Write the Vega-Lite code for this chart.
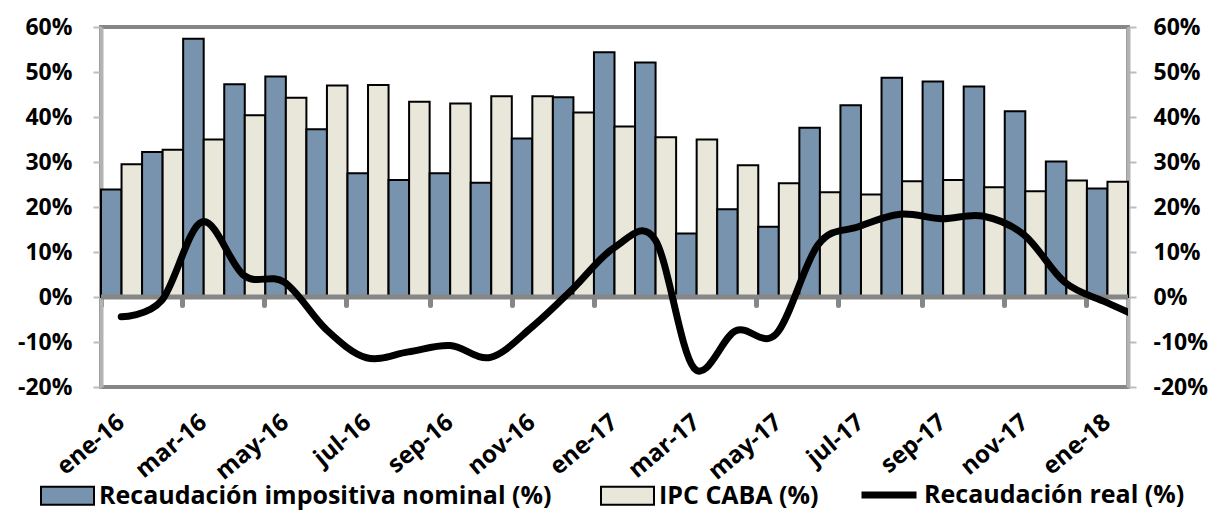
{
  "$schema": "https://vega.github.io/schema/vega-lite/v6.json",
  "width": 1027,
  "height": 360,
  "autosize": {"type": "none"},
  "padding": {"left": 101, "top": 27, "right": 91, "bottom": 126},
  "background": "white",
  "config": {
    "font": "Open Sans",
    "view": {"stroke": "#868686", "strokeWidth": 4},
    "axis": {"labelFont": "Open Sans", "labelFontWeight": "bold", "labelColor": "black", "grid": false, "title": null},
    "legend": {"labelFont": "Open Sans", "labelFontWeight": "bold", "labelColor": "black", "labelFontSize": 25, "labelLimit": 700, "title": null, "padding": 0}
  },
  "datasets": {
    "barras": [
      {"mes": "ene-16", "serie": "Recaudación impositiva nominal (%)", "valor": 23.9}, {"mes": "ene-16", "serie": "IPC CABA (%)", "valor": 29.5},
      {"mes": "feb-16", "serie": "Recaudación impositiva nominal (%)", "valor": 32.2}, {"mes": "feb-16", "serie": "IPC CABA (%)", "valor": 32.7},
      {"mes": "mar-16", "serie": "Recaudación impositiva nominal (%)", "valor": 57.4}, {"mes": "mar-16", "serie": "IPC CABA (%)", "valor": 35.0},
      {"mes": "abr-16", "serie": "Recaudación impositiva nominal (%)", "valor": 47.3}, {"mes": "abr-16", "serie": "IPC CABA (%)", "valor": 40.4},
      {"mes": "may-16", "serie": "Recaudación impositiva nominal (%)", "valor": 49.0}, {"mes": "may-16", "serie": "IPC CABA (%)", "valor": 44.3},
      {"mes": "jun-16", "serie": "Recaudación impositiva nominal (%)", "valor": 37.3}, {"mes": "jun-16", "serie": "IPC CABA (%)", "valor": 47.0},
      {"mes": "jul-16", "serie": "Recaudación impositiva nominal (%)", "valor": 27.5}, {"mes": "jul-16", "serie": "IPC CABA (%)", "valor": 47.1},
      {"mes": "ago-16", "serie": "Recaudación impositiva nominal (%)", "valor": 26.0}, {"mes": "ago-16", "serie": "IPC CABA (%)", "valor": 43.4},
      {"mes": "sep-16", "serie": "Recaudación impositiva nominal (%)", "valor": 27.5}, {"mes": "sep-16", "serie": "IPC CABA (%)", "valor": 43.0},
      {"mes": "oct-16", "serie": "Recaudación impositiva nominal (%)", "valor": 25.4}, {"mes": "oct-16", "serie": "IPC CABA (%)", "valor": 44.6},
      {"mes": "nov-16", "serie": "Recaudación impositiva nominal (%)", "valor": 35.2}, {"mes": "nov-16", "serie": "IPC CABA (%)", "valor": 44.6},
      {"mes": "dic-16", "serie": "Recaudación impositiva nominal (%)", "valor": 44.4}, {"mes": "dic-16", "serie": "IPC CABA (%)", "valor": 41.0},
      {"mes": "ene-17", "serie": "Recaudación impositiva nominal (%)", "valor": 54.4}, {"mes": "ene-17", "serie": "IPC CABA (%)", "valor": 37.9},
      {"mes": "feb-17", "serie": "Recaudación impositiva nominal (%)", "valor": 52.1}, {"mes": "feb-17", "serie": "IPC CABA (%)", "valor": 35.5},
      {"mes": "mar-17", "serie": "Recaudación impositiva nominal (%)", "valor": 14.1}, {"mes": "mar-17", "serie": "IPC CABA (%)", "valor": 35.0},
      {"mes": "abr-17", "serie": "Recaudación impositiva nominal (%)", "valor": 19.5}, {"mes": "abr-17", "serie": "IPC CABA (%)", "valor": 29.3},
      {"mes": "may-17", "serie": "Recaudación impositiva nominal (%)", "valor": 15.6}, {"mes": "may-17", "serie": "IPC CABA (%)", "valor": 25.3},
      {"mes": "jun-17", "serie": "Recaudación impositiva nominal (%)", "valor": 37.6}, {"mes": "jun-17", "serie": "IPC CABA (%)", "valor": 23.3},
      {"mes": "jul-17", "serie": "Recaudación impositiva nominal (%)", "valor": 42.6}, {"mes": "jul-17", "serie": "IPC CABA (%)", "valor": 22.8},
      {"mes": "ago-17", "serie": "Recaudación impositiva nominal (%)", "valor": 48.7}, {"mes": "ago-17", "serie": "IPC CABA (%)", "valor": 25.7},
      {"mes": "sep-17", "serie": "Recaudación impositiva nominal (%)", "valor": 47.9}, {"mes": "sep-17", "serie": "IPC CABA (%)", "valor": 26.0},
      {"mes": "oct-17", "serie": "Recaudación impositiva nominal (%)", "valor": 46.8}, {"mes": "oct-17", "serie": "IPC CABA (%)", "valor": 24.4},
      {"mes": "nov-17", "serie": "Recaudación impositiva nominal (%)", "valor": 41.3}, {"mes": "nov-17", "serie": "IPC CABA (%)", "valor": 23.5},
      {"mes": "dic-17", "serie": "Recaudación impositiva nominal (%)", "valor": 30.1}, {"mes": "dic-17", "serie": "IPC CABA (%)", "valor": 25.9},
      {"mes": "ene-18", "serie": "Recaudación impositiva nominal (%)", "valor": 24.1}, {"mes": "ene-18", "serie": "IPC CABA (%)", "valor": 25.6}
    ],
    "real": [
      {"fecha": "2016-01-16", "serie": "Recaudación real (%)", "real": -4.4},
      {"fecha": "2016-02-15", "serie": "Recaudación real (%)", "real": -0.8},
      {"fecha": "2016-03-16", "serie": "Recaudación real (%)", "real": 16.7},
      {"fecha": "2016-04-16", "serie": "Recaudación real (%)", "real": 4.8},
      {"fecha": "2016-05-16", "serie": "Recaudación real (%)", "real": 3.3},
      {"fecha": "2016-06-16", "serie": "Recaudación real (%)", "real": -7.2},
      {"fecha": "2016-07-16", "serie": "Recaudación real (%)", "real": -13.5},
      {"fecha": "2016-08-16", "serie": "Recaudación real (%)", "real": -12.2},
      {"fecha": "2016-09-16", "serie": "Recaudación real (%)", "real": -10.8},
      {"fecha": "2016-10-16", "serie": "Recaudación real (%)", "real": -13.4},
      {"fecha": "2016-11-16", "serie": "Recaudación real (%)", "real": -6.6},
      {"fecha": "2016-12-16", "serie": "Recaudación real (%)", "real": 1.8},
      {"fecha": "2017-01-16", "serie": "Recaudación real (%)", "real": 11.0},
      {"fecha": "2017-02-15", "serie": "Recaudación real (%)", "real": 12.8},
      {"fecha": "2017-03-16", "serie": "Recaudación real (%)", "real": -15.8},
      {"fecha": "2017-04-16", "serie": "Recaudación real (%)", "real": -7.5},
      {"fecha": "2017-05-16", "serie": "Recaudación real (%)", "real": -8.2},
      {"fecha": "2017-06-16", "serie": "Recaudación real (%)", "real": 11.6},
      {"fecha": "2017-07-16", "serie": "Recaudación real (%)", "real": 15.6},
      {"fecha": "2017-08-16", "serie": "Recaudación real (%)", "real": 18.4},
      {"fecha": "2017-09-16", "serie": "Recaudación real (%)", "real": 17.4},
      {"fecha": "2017-10-16", "serie": "Recaudación real (%)", "real": 18.0},
      {"fecha": "2017-11-16", "serie": "Recaudación real (%)", "real": 13.8},
      {"fecha": "2017-12-16", "serie": "Recaudación real (%)", "real": 3.3},
      {"fecha": "2018-01-16", "serie": "Recaudación real (%)", "real": -1.2},
      {"fecha": "2018-02-15", "serie": "Recaudación real (%)", "real": -5.2}
    ]
  },
  "layer": [
    {
      "data": {"name": "barras"},
      "mark": {"type": "bar", "stroke": "black", "strokeWidth": 2},
      "encoding": {
        "x": {
          "field": "mes", "type": "nominal", "sort": null,
          "scale": {"paddingInner": 0, "paddingOuter": 0},
          "axis": {
            "orient": "bottom",
            "values": ["ene-16", "mar-16", "may-16", "jul-16", "sep-16", "nov-16", "ene-17", "mar-17", "may-17", "jul-17", "sep-17", "nov-17", "ene-18"],
            "labelAngle": -40, "labelAlign": "right", "labelBaseline": "middle",
            "labelPadding": 32, "ticks": false, "tickSize": 0, "domain": false,
            "labelFontSize": 24, "title": null
          }
        },
        "xOffset": {
          "field": "serie", "type": "nominal",
          "sort": ["Recaudación impositiva nominal (%)", "IPC CABA (%)"],
          "scale": {"paddingInner": 0, "paddingOuter": 0}
        },
        "y": {
          "field": "valor", "type": "quantitative",
          "scale": {"domain": [-20, 60], "nice": false, "zero": false},
          "axis": {
            "orient": "left", "values": [-20, -10, 0, 10, 20, 30, 40, 50, 60],
            "labelExpr": "datum.value + '%'", "labelFontSize": 23,
            "tickSize": 8, "tickColor": "#bdbdbd", "tickWidth": 2,
            "domainColor": "#b3b3b3", "domainWidth": 4, "labelPadding": 21, "title": null
          }
        },
        "fill": {
          "field": "serie", "type": "nominal",
          "scale": {"domain": ["Recaudación impositiva nominal (%)", "IPC CABA (%)"], "range": ["#7893ae", "#e9e7da"]},
          "legend": {
            "orient": "none", "legendX": -61, "legendY": 441, "direction": "horizontal",
            "symbolType": "M-1,-0.34H1V0.34H-1Z", "symbolSize": 2809,
            "symbolStrokeColor": "black", "symbolStrokeWidth": 2,
            "labelOffset": 4, "columnPadding": 45
          }
        }
      }
    },
    {
      "data": {"values": [{"cero": 0}]},
      "mark": {"type": "rule", "color": "#868686", "strokeWidth": 5},
      "encoding": {
        "y": {"field": "cero", "type": "quantitative", "scale": {"domain": [-20, 60], "nice": false}, "axis": null}
      }
    },
    {
      "data": {"name": "real"},
      "mark": {"type": "line", "interpolate": "cardinal", "strokeWidth": 7, "strokeCap": "round", "strokeJoin": "round", "clip": true},
      "encoding": {
        "x": {
          "field": "fecha", "type": "temporal",
          "scale": {"type": "utc", "domain": [{"year": 2016, "month": 1, "date": 1, "utc": true}, {"year": 2018, "month": 2, "date": 1, "utc": true}]},
          "axis": {
            "orient": "bottom", "offset": -90, "labels": false, "domain": false,
            "values": [
              {"year": 2016, "month": 1, "date": 1, "utc": true}, {"year": 2016, "month": 3, "date": 1, "utc": true},
              {"year": 2016, "month": 5, "date": 1, "utc": true}, {"year": 2016, "month": 7, "date": 1, "utc": true},
              {"year": 2016, "month": 9, "date": 1, "utc": true}, {"year": 2016, "month": 11, "date": 1, "utc": true},
              {"year": 2017, "month": 1, "date": 1, "utc": true}, {"year": 2017, "month": 3, "date": 1, "utc": true},
              {"year": 2017, "month": 5, "date": 1, "utc": true}, {"year": 2017, "month": 7, "date": 1, "utc": true},
              {"year": 2017, "month": 9, "date": 1, "utc": true}, {"year": 2017, "month": 11, "date": 1, "utc": true},
              {"year": 2018, "month": 1, "date": 1, "utc": true}
            ],
            "ticks": true, "tickSize": 8, "tickWidth": 5, "tickCap": "round", "tickColor": "#868686",
            "grid": false, "title": null
          }
        },
        "y": {
          "field": "real", "type": "quantitative",
          "scale": {"domain": [-20, 60], "nice": false},
          "axis": {
            "orient": "right", "values": [-20, -10, 0, 10, 20, 30, 40, 50, 60],
            "labelExpr": "datum.value + '%'", "labelFontSize": 23,
            "tickSize": 8, "tickColor": "#bdbdbd", "tickWidth": 2,
            "domainColor": "#b3b3b3", "domainWidth": 4, "labelPadding": 17, "title": null
          }
        },
        "stroke": {
          "field": "serie", "type": "nominal",
          "scale": {"domain": ["Recaudación real (%)"], "range": ["black"]},
          "legend": {
            "orient": "none", "legendX": 757, "legendY": 437,
            "symbolType": "stroke", "symbolSize": 3025, "symbolStrokeWidth": 7,
            "symbolStrokeColor": "black", "labelOffset": 4
          }
        }
      }
    }
  ],
  "resolve": {"scale": {"x": "independent"}, "axis": {"x": "independent", "y": "independent"}}
}
